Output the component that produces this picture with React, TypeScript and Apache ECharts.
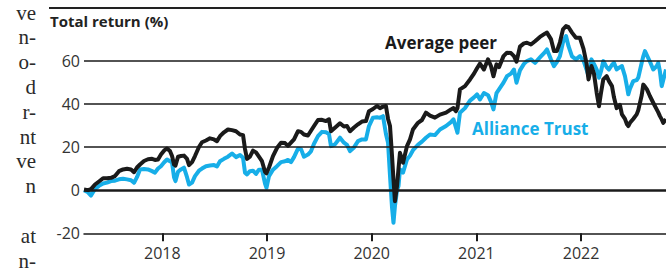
import React, { useEffect, useRef } from "react";
import * as echarts from "echarts";

// Time positions (decimal years) of the sampled points
const years = [
  2017.252, 2017.29, 2017.319, 2017.357, 2017.395, 2017.434, 2017.472, 2017.51, 2017.548, 2017.586,
  2017.625, 2017.663, 2017.701, 2017.73, 2017.758, 2017.787, 2017.825, 2017.863, 2017.902, 2017.93,
  2017.959, 2017.987, 2018.016, 2018.045, 2018.073, 2018.093, 2018.112, 2018.126, 2018.15, 2018.178,
  2018.207, 2018.236, 2018.255, 2018.284, 2018.312, 2018.35, 2018.379, 2018.417, 2018.455, 2018.494,
  2018.522, 2018.551, 2018.589, 2018.627, 2018.666, 2018.704, 2018.742, 2018.771, 2018.79, 2018.809,
  2018.837, 2018.866, 2018.895, 2018.923, 2018.952, 2018.981, 2018.995, 2019.019, 2019.057, 2019.095,
  2019.134, 2019.172, 2019.2, 2019.229, 2019.258, 2019.296, 2019.325, 2019.353, 2019.391, 2019.42,
  2019.449, 2019.487, 2019.525, 2019.563, 2019.592, 2019.611, 2019.649, 2019.697, 2019.735, 2019.764,
  2019.793, 2019.831, 2019.869, 2019.907, 2019.945, 2019.974, 2020.012, 2020.05, 2020.079, 2020.108,
  2020.136, 2020.156, 2020.175, 2020.194, 2020.208, 2020.222, 2020.242, 2020.256, 2020.27, 2020.299,
  2020.337, 2020.366, 2020.394, 2020.442, 2020.48, 2020.518, 2020.557, 2020.604, 2020.652, 2020.71,
  2020.757, 2020.781, 2020.805, 2020.819, 2020.843, 2020.891, 2020.939, 2020.977, 2021.006, 2021.034,
  2021.072, 2021.111, 2021.139, 2021.163, 2021.192, 2021.216, 2021.259, 2021.292, 2021.33, 2021.359,
  2021.383, 2021.416, 2021.454, 2021.483, 2021.521, 2021.56, 2021.607, 2021.655, 2021.674, 2021.712,
  2021.741, 2021.77, 2021.798, 2021.827, 2021.856, 2021.88, 2021.913, 2021.951, 2021.989, 2022.023,
  2022.051, 2022.071, 2022.099, 2022.123, 2022.149, 2022.171, 2022.19, 2022.212, 2022.244, 2022.266,
  2022.295, 2022.314, 2022.34, 2022.371, 2022.39, 2022.419, 2022.438, 2022.451, 2022.467, 2022.498,
  2022.531, 2022.546, 2022.579, 2022.594, 2022.61, 2022.629, 2022.658, 2022.689, 2022.722, 2022.737,
  2022.753, 2022.77, 2022.785, 2022.811,
];

// Average peer total return (%)
const averagePeer = [
  0.3, 0, 0.5, 2.6, 4, 5.5, 5.5, 5.7, 6.5, 8.8,
  9.6, 9.9, 9.6, 8.3, 10.5, 11.9, 13.5, 14.3, 14.5, 14,
  14.2, 16.5, 18.3, 19.3, 18.1, 15.8, 11.9, 11.4, 15.5, 15.8,
  16, 14.5, 11.6, 13, 15.8, 20, 22.2, 23, 24, 23.5,
  22.7, 25, 26.8, 28.1, 27.8, 27.3, 25.8, 25.5, 19, 14.5,
  15.5, 18.3, 17.5, 15.5, 13.4, 8.5, 7.8, 10.5, 15.8, 19.5,
  22, 21.8, 20.5, 22, 23.5, 27.3, 27, 25.8, 25.3, 27.5,
  29.7, 32.5, 32.6, 32, 32.8, 27.3, 28.9, 31, 29.5, 29.7,
  27.3, 29, 30.5, 31.8, 32, 36.6, 37.6, 39, 38, 38.7,
  39, 33, 29.7, 16, 5, -5.1, 2, 10, 17.3, 12.7,
  20.4, 23.5, 28.1, 31.2, 32.5, 35.9, 34.5, 33.6, 35, 35.9,
  37.4, 38, 36.6, 38, 46.7, 48.2, 51.3, 54, 56.5, 58.6,
  55.9, 60.6, 57.5, 52.8, 58.3, 57, 62.1, 63.7, 63.5, 62.1,
  59.5, 66.5, 68, 68.3, 67.5, 69, 71, 72.5, 73, 70,
  64.5, 64.5, 68.5, 74.5, 76, 75.5, 73, 70.6, 70.6, 65.5,
  59, 51.3, 57.5, 54, 45.1, 38.9, 45, 51.3, 52.8, 50.5,
  48.2, 43, 38, 39.5, 35.1, 33, 30.5, 29.7, 31.2, 33,
  35.1, 37, 44, 48.9, 48, 46.7, 43.5, 40.5, 37.4, 36,
  34.3, 32.8, 31.2, 32.8,
];

// Alliance Trust total return (%)
const allianceTrust = [
  0, -1, -2.5, 0.5, 2, 3.1, 3.5, 4.2, 4.4, 5,
  5.3, 5, 4.6, 3.4, 6, 9.6, 9.8, 9.6, 8.8, 8.1,
  10, 11.1, 12.8, 14.2, 13.4, 12.7, 6, 4.2, 8.5, 9.6,
  10.4, 6, 2.6, 3.5, 6.5, 9, 10, 11.1, 11.4, 11.6,
  11, 13.4, 14.5, 15.5, 17, 15.3, 16.3, 15, 8.1, 7.3,
  8.8, 9, 7.5, 9.5, 9.5, 3, 1.1, 6.5, 9.5, 11.1,
  13, 13.4, 14, 13, 15.3, 19.2, 19, 15.5, 16.5, 18,
  21.5, 25, 27, 26.8, 26, 20.4, 21.2, 24.3, 22, 21,
  18.1, 19.8, 22.7, 23.5, 23.5, 29.7, 33.6, 33.8, 33.5, 34.3,
  26, 22, 6.5, -8, -15.1, -7.4, 0, 1.9, 9.6, 8.1,
  14.2, 16, 18.5, 21, 22.5, 24.3, 25.8, 25.5, 28.1, 29.7,
  31.5, 32.8, 29, 26.6, 35.9, 38, 41.5, 43, 44.4, 42,
  45, 44, 41, 37.4, 45, 46.7, 49.8, 52.8, 54, 55.9,
  49.8, 55.5, 58.5, 59.8, 60.6, 59, 61.5, 64, 65.2, 60.6,
  57.5, 59.5, 62.1, 68.5, 71.4, 66.7, 62, 60.6, 62.1, 60,
  56, 52.8, 60.6, 58.5, 55.9, 52.1, 55, 59.8, 57, 55.9,
  58, 59, 55.9, 57, 57.5, 52.8, 48, 44.4, 47, 50.5,
  51, 52.1, 59, 62, 64.4, 62.5, 59.5, 55.9, 57.5, 59,
  55, 48.2, 51, 55.9,
];

const yTickValues = [-20, 0, 20, 40, 60];
const xTickYears = [2018, 2019, 2020, 2021, 2022];

// Visible right-hand ends of the neighbouring article's text lines
const articleLineEnds = ["ve", "n-", "o-", "d", "r-", "nt", "ve", "n", "", "at", "n-"];

const BLACK = "#1a1a1a";
const BLUE = "#17aee8";
const SANS = "'Open Sans', 'Noto Sans', sans-serif";

export default function App() {
  const ref = useRef<HTMLDivElement>(null);

  useEffect(() => {
    if (!ref.current) return;
    const chart = echarts.init(ref.current, null, { renderer: "svg" });

    const articleTexts = articleLineEnds
      .map((t, i) => ({ t, i }))
      .filter((o) => o.t !== "")
      .map(({ t, i }) => ({
        type: "text",
        x: 36,
        y: 12.5 + i * 24.8,
        z: 10,
        style: {
          text: t,
          font: "21px 'Liberation Serif', 'DejaVu Serif', serif",
          fill: "#2a2a2a",
          textAlign: "right",
          textVerticalAlign: "middle",
        },
      }));

    chart.setOption({
      animation: false,
      backgroundColor: "#ffffff",
      grid: { left: 84, right: 0, top: 17.5, bottom: 37.7, containLabel: false },
      xAxis: {
        type: "value",
        min: 2017.252,
        max: 2022.811,
        axisLine: { show: true, onZero: false, lineStyle: { color: BLACK, width: 1.5 } },
        axisTick: {
          show: true,
          customValues: xTickYears,
          length: 8,
          lineStyle: { color: BLACK, width: 2 },
        },
        axisLabel: {
          customValues: xTickYears,
          formatter: (v: number) => String(Math.round(v)),
          color: "#333",
          fontSize: 16,
          fontFamily: SANS,
          margin: 12,
        },
        splitLine: { show: false },
      },
      yAxis: {
        type: "value",
        min: -20,
        max: 80,
        axisLine: { show: false },
        axisTick: { show: false },
        splitLine: { show: false },
        axisLabel: {
          customValues: yTickValues,
          color: "#333",
          fontSize: 16,
          fontFamily: SANS,
          margin: 4,
          padding: [0, 0, 5, 0],
        },
      },
      series: [
        {
          type: "line",
          data: [],
          z: 1,
          silent: true,
          markLine: {
            silent: true,
            symbol: ["none", "none"],
            label: { show: false },
            lineStyle: { color: BLACK, type: "solid", width: 1.5 },
            data: yTickValues
              .filter((v) => v > -20)
              .map((v) => ({ yAxis: v, lineStyle: { width: v === 0 ? 2.5 : 1.5, color: BLACK, type: "solid" } })),
          },
        },
        {
          name: "Alliance Trust",
          type: "line",
          z: 2,
          showSymbol: false,
          lineStyle: { color: BLUE, width: 4, join: "round" },
          itemStyle: { color: BLUE },
          data: years.map((y, i) => [y, allianceTrust[i]]),
        },
        {
          name: "Average peer",
          type: "line",
          z: 3,
          showSymbol: false,
          lineStyle: { color: BLACK, width: 4, join: "round" },
          itemStyle: { color: BLACK },
          data: years.map((y, i) => [y, averagePeer[i]]),
        },
      ],
      graphic: [
        ...articleTexts,
        {
          type: "line",
          z: 10,
          shape: { x1: 49, y1: 8, x2: 666, y2: 8 },
          style: { stroke: "#222", lineWidth: 2 },
        },
        {
          type: "text",
          x: 50,
          y: 21,
          z: 10,
          style: {
            text: "Total return (%)",
            font: `bold 15px ${SANS}`,
            fill: "#222",
            textAlign: "left",
            textVerticalAlign: "middle",
          },
        },
        {
          type: "text",
          x: 385,
          y: 42,
          z: 10,
          style: {
            text: "Average peer",
            font: `bold 17px ${SANS}`,
            fill: BLACK,
            textAlign: "left",
            textVerticalAlign: "middle",
          },
        },
        {
          type: "text",
          x: 472,
          y: 128.5,
          z: 10,
          style: {
            text: "Alliance Trust",
            font: `bold 17px ${SANS}`,
            fill: BLUE,
            textAlign: "left",
            textVerticalAlign: "middle",
          },
        },
      ],
    });

    return () => chart.dispose();
  }, []);

  return (
    <div
      ref={ref}
      style={{ position: "absolute", left: 0, top: 0, width: 666, height: 271, background: "#fff" }}
    />
  );
}
